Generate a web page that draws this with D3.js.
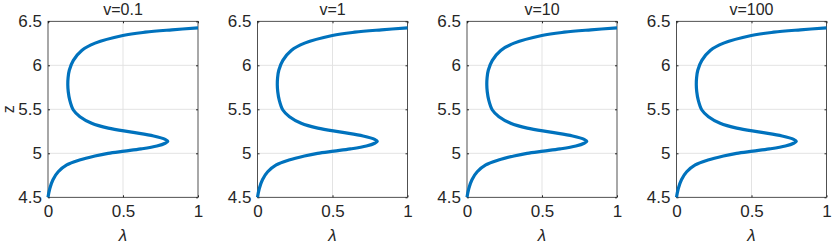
<!DOCTYPE html>
<html>
<head>
<meta charset="utf-8">
<script src="https://cdn.jsdelivr.net/npm/d3@7"></script>
<style>
  body { margin: 0; background: #fff; }
  svg { display: block; }
  text { font-family: "Liberation Sans", Arial, sans-serif; fill: #262626; }
</style>
</head>
<body>
<svg id="chart"></svg>
<script>
// Panel titles (one panel per v value)
const panelTitles = ["v=0.1", "v=1", "v=10", "v=100"];

// Curve: z (height) and lambda, same for every panel
const zValues = [4.50, 4.60, 4.70, 4.79, 4.868, 4.924, 4.97, 5.00, 5.025,
  5.05, 5.083, 5.114, 5.136, 5.159, 5.197, 5.240, 5.286, 5.342, 5.416,
  5.492, 5.605, 5.70, 5.78, 5.86, 5.944, 6.056, 6.169, 6.252, 6.339,
  6.376, 6.403, 6.425];
const lambdaValues = [0.000, 0.012, 0.033, 0.068, 0.125, 0.210, 0.313, 0.400, 0.510,
  0.620, 0.726, 0.781, 0.799, 0.781, 0.704, 0.558, 0.402, 0.291, 0.213,
  0.169, 0.145, 0.135, 0.132, 0.134, 0.142, 0.169, 0.225, 0.314, 0.499,
  0.648, 0.826, 1.000];

// Tick labels
const xTicks = [0, 0.5, 1];
const yTicks = [4.5, 5, 5.5, 6, 6.5];

// Layout
const W = 832, H = 246;
const plotW = 150, plotH = 176;
const top0 = 21.3;
const lefts = [48, 257.5, 467, 676.5];

const svg = d3.select("#chart").attr("width", W).attr("height", H);

const x = d3.scaleLinear().domain([0, 1]).range([0, plotW]);
const y = d3.scaleLinear().domain([4.5, 6.5]).range([plotH, 0]);

const points = zValues.map((z, i) => ({ z: z, l: lambdaValues[i] }));

const line = d3.line()
  .x((d) => x(d.l))
  .y((d) => y(d.z))
  .curve(d3.curveCatmullRom.alpha(0.5));

panelTitles.forEach((title, p) => {
  const g = svg.append("g").attr("transform", `translate(${lefts[p]}, ${top0})`);

  // Grid lines
  g.append("g")
    .selectAll("line")
    .data(xTicks.slice(1, -1))
    .enter()
    .append("line")
    .attr("x1", (d) => x(d)).attr("x2", (d) => x(d))
    .attr("y1", 0).attr("y2", plotH)
    .attr("stroke", "#e3e3e3").attr("stroke-width", 1);
  g.append("g")
    .selectAll("line")
    .data(yTicks.slice(1, -1))
    .enter()
    .append("line")
    .attr("x1", 0).attr("x2", plotW)
    .attr("y1", (d) => y(d)).attr("y2", (d) => y(d))
    .attr("stroke", "#e3e3e3").attr("stroke-width", 1);

  // Axes (ticks inside, MATLAB style)
  const fmt = (d) => String(d);
  const xAxis = g.append("g")
    .attr("transform", `translate(0, ${plotH})`)
    .call(d3.axisBottom(x).tickValues(xTicks).tickFormat(fmt).tickSize(-2).tickPadding(8));
  const xTop = g.append("g")
    .call(d3.axisTop(x).tickValues(xTicks).tickFormat("").tickSize(-2));
  const yAxis = g.append("g")
    .call(d3.axisLeft(y).tickValues(yTicks).tickFormat(fmt).tickSize(-2).tickPadding(6));
  const yRight = g.append("g")
    .attr("transform", `translate(${plotW}, 0)`)
    .call(d3.axisRight(y).tickValues(yTicks).tickFormat("").tickSize(-2));

  [xAxis, xTop, yAxis, yRight].forEach((a) => {
    a.select(".domain").remove();
    a.selectAll(".tick line").attr("stroke", "#262626");
    a.selectAll("text").attr("font-size", 17).attr("fill", "#262626")
      .attr("font-family", "Liberation Sans, Arial, sans-serif");
  });

  // Box
  g.append("rect")
    .attr("x", 0).attr("y", 0)
    .attr("width", plotW).attr("height", plotH)
    .attr("fill", "none").attr("stroke", "#262626").attr("stroke-width", 0.8);

  // Curve
  g.append("path")
    .datum(points)
    .attr("d", line)
    .attr("fill", "none")
    .attr("stroke", "#0072BD")
    .attr("stroke-width", 3.2);

  // Title
  g.append("text")
    .attr("x", plotW / 2)
    .attr("y", -6)
    .attr("text-anchor", "middle")
    .attr("font-size", 16)
    .text(title);

  // x label
  g.append("text")
    .attr("x", plotW / 2)
    .attr("y", 220)
    .attr("text-anchor", "middle")
    .attr("font-size", 17)
    .attr("font-style", "italic")
    .attr("font-family", "DejaVu Serif, serif")
    .text("λ");
});

// y label (first panel only)
svg.append("text")
  .attr("transform", `translate(14, ${top0 + plotH / 2}) rotate(-90)`)
  .attr("text-anchor", "middle")
  .attr("font-size", 16)
  .text("z");
</script>
</body>
</html>
